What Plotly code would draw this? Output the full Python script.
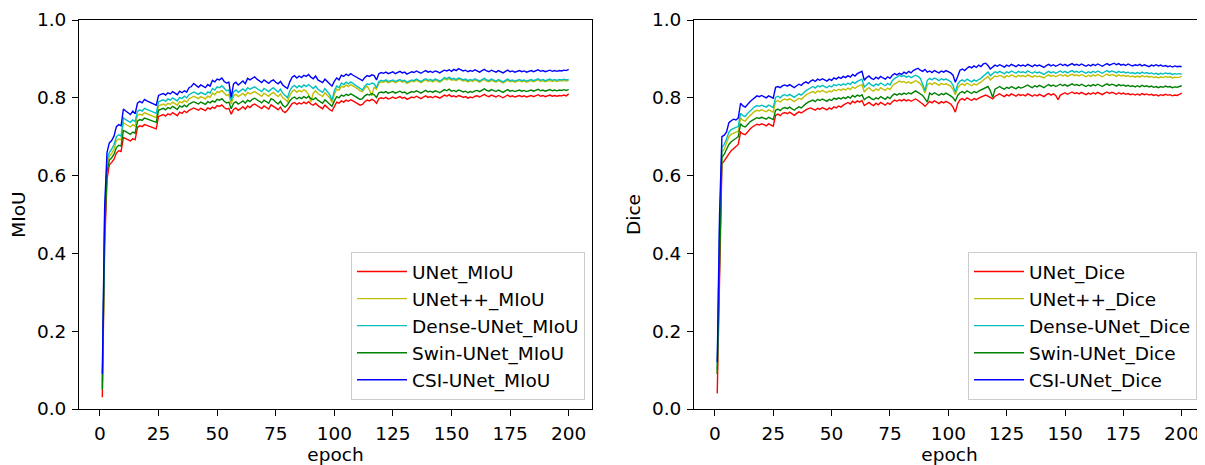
import plotly.graph_objects as go

# ---------------- data (values in thousandths) ----------------
MODELS = ["UNet", "UNet++", "Dense-UNet", "Swin-UNet", "CSI-UNet"]
COLORS = ["#ff0000", "#bfbf00", "#00bfbf", "#008000", "#0000ff"]
X_TICKS = [0, 25, 50, 75, 100, 125, 150, 175, 200]
Y_TICKS = [0.0, 0.2, 0.4, 0.6, 0.8, 1.0]

MIOU_UNET = [
    30, 420, 590, 628, 634, 642, 658, 664, 662, 698, 695, 691, 689, 695, 692, 724, 728, 726, 731, 729,
    727, 724, 722, 720, 752, 755, 757, 753, 759, 756, 762, 758, 754, 763, 760, 766, 762, 768, 771, 774,
    771, 768, 773, 770, 767, 774, 771, 776, 773, 780, 778, 782, 775, 771, 773, 758, 770, 774, 768, 772,
    777, 771, 779, 775, 781, 784, 780, 776, 772, 779, 775, 771, 782, 779, 774, 769, 776, 766, 762, 768,
    778, 785, 788, 783, 787, 784, 789, 785, 790, 784, 781, 786, 780, 776, 772, 781, 775, 770, 766, 778,
    789, 786, 792, 789, 794, 791, 795, 792, 788, 784, 781, 783, 790, 794, 792, 796, 793, 786, 798, 800,
    798, 801, 797, 799, 802, 798, 801, 803, 799, 801, 796, 799, 802, 800, 804, 801, 798, 802, 805, 801,
    803, 800, 804, 802, 799, 803, 807, 804, 808, 803, 805, 802, 806, 804, 801, 803, 799, 802, 800, 804,
    805, 802, 806, 809, 805, 803, 807, 804, 802, 806, 803, 800, 804, 807, 803, 805, 802, 804, 806, 803,
    805, 802, 804, 806, 803, 805, 808, 804, 806, 803, 805, 807, 804, 806, 804, 806, 805, 807, 805, 810,
]
MIOU_UNETPP = [
    60, 480, 630, 650, 657, 668, 690, 694, 692, 736, 732, 728, 725, 731, 727, 754, 758, 755, 762, 759,
    757, 754, 752, 749, 779, 782, 784, 780, 786, 783, 789, 785, 781, 790, 787, 793, 789, 797, 800, 804,
    801, 798, 803, 800, 797, 804, 801, 812, 808, 816, 814, 819, 811, 806, 808, 784, 804, 809, 803, 807,
    811, 805, 814, 810, 813, 816, 812, 808, 804, 812, 808, 804, 810, 814, 808, 803, 810, 800, 796, 790,
    806, 816, 820, 814, 819, 815, 821, 817, 808, 790, 812, 818, 811, 807, 803, 813, 806, 800, 788, 809,
    822, 819, 830, 827, 833, 829, 834, 831, 827, 823, 818, 816, 825, 830, 820, 805, 828, 822, 838, 841,
    840, 843, 839, 841, 843, 839, 842, 844, 840, 842, 837, 840, 843, 841, 845, 842, 839, 843, 846, 842,
    844, 841, 845, 843, 840, 844, 849, 846, 850, 845, 847, 844, 848, 846, 843, 845, 841, 844, 842, 846,
    843, 840, 844, 847, 843, 841, 845, 842, 840, 844, 841, 838, 842, 845, 841, 843, 840, 842, 844, 841,
    843, 840, 842, 844, 841, 843, 846, 842, 844, 841, 843, 845, 842, 844, 842, 844, 843, 845, 843, 845,
]
MIOU_DENSE = [
    70, 500, 640, 660, 668, 680, 700, 705, 702, 748, 744, 740, 737, 743, 739, 765, 769, 766, 773, 770,
    768, 765, 763, 760, 790, 793, 795, 791, 797, 794, 800, 796, 792, 801, 798, 804, 800, 808, 811, 815,
    812, 809, 814, 811, 808, 815, 812, 824, 820, 828, 826, 831, 823, 818, 820, 792, 815, 820, 814, 818,
    823, 817, 826, 822, 825, 828, 824, 820, 816, 824, 820, 816, 822, 826, 820, 815, 822, 812, 806, 800,
    818, 828, 832, 826, 831, 827, 833, 829, 834, 828, 824, 830, 822, 818, 814, 824, 816, 808, 794, 818,
    830, 826, 838, 834, 840, 836, 841, 837, 833, 829, 823, 820, 830, 836, 834, 838, 836, 826, 842, 845,
    843, 846, 842, 844, 846, 842, 845, 847, 843, 845, 840, 843, 846, 844, 848, 845, 842, 846, 849, 845,
    847, 844, 848, 846, 843, 847, 852, 849, 853, 848, 850, 847, 851, 849, 846, 848, 844, 847, 845, 849,
    846, 843, 847, 850, 846, 844, 848, 845, 843, 847, 844, 841, 845, 848, 844, 846, 843, 845, 847, 844,
    846, 843, 845, 847, 844, 846, 849, 845, 847, 844, 846, 848, 845, 847, 845, 847, 846, 848, 846, 847,
]
MIOU_SWIN = [
    50, 450, 610, 640, 646, 655, 672, 678, 676, 716, 713, 709, 706, 712, 709, 740, 744, 742, 748, 746,
    744, 741, 739, 737, 768, 771, 773, 769, 775, 772, 778, 774, 770, 779, 776, 781, 777, 784, 787, 790,
    787, 784, 789, 786, 783, 790, 787, 792, 789, 796, 794, 798, 791, 787, 789, 772, 786, 790, 784, 788,
    792, 786, 794, 790, 796, 799, 795, 791, 787, 794, 790, 786, 798, 795, 789, 784, 791, 781, 776, 782,
    792, 799, 802, 797, 801, 798, 803, 799, 804, 798, 795, 800, 794, 790, 786, 795, 789, 784, 778, 792,
    803, 800, 807, 804, 809, 806, 810, 807, 803, 799, 796, 798, 805, 809, 807, 811, 808, 801, 813, 815,
    813, 816, 812, 814, 816, 812, 815, 817, 813, 815, 810, 813, 816, 814, 818, 815, 812, 816, 819, 815,
    817, 814, 818, 816, 813, 817, 821, 818, 822, 817, 819, 816, 820, 818, 815, 817, 813, 816, 814, 818,
    819, 816, 820, 823, 819, 817, 821, 818, 816, 820, 817, 814, 818, 821, 817, 819, 816, 818, 820, 817,
    819, 816, 818, 820, 817, 819, 822, 818, 820, 817, 819, 821, 818, 820, 818, 820, 819, 821, 819, 821,
]
MIOU_CSI = [
    90, 520, 660, 684, 690, 702, 726, 731, 728, 771, 766, 761, 757, 766, 759, 786, 791, 787, 796, 792,
    790, 787, 784, 781, 806, 809, 811, 807, 813, 810, 816, 812, 808, 817, 813, 818, 815, 826, 829, 837,
    831, 827, 833, 829, 826, 834, 830, 845, 841, 848, 846, 851, 842, 838, 840, 801, 836, 840, 833, 838,
    843, 836, 850, 846, 849, 854, 848, 843, 839, 846, 841, 837, 843, 846, 840, 836, 842, 833, 828, 824,
    841, 853, 857, 851, 856, 852, 858, 855, 860, 853, 849, 856, 846, 843, 839, 848, 841, 835, 830, 842,
    851, 846, 858, 855, 861, 857, 862, 858, 854, 850, 846, 844, 852, 857, 855, 859, 857, 846, 862, 865,
    863, 866, 862, 864, 867, 862, 865, 868, 864, 866, 861, 864, 867, 865, 869, 866, 863, 867, 870, 866,
    868, 865, 869, 867, 864, 868, 871, 869, 872, 868, 873, 870, 875, 872, 869, 871, 867, 870, 868, 872,
    869, 866, 870, 873, 869, 867, 871, 868, 866, 870, 867, 864, 868, 871, 867, 869, 866, 868, 870, 867,
    869, 866, 868, 870, 867, 869, 872, 868, 870, 867, 869, 871, 868, 870, 868, 870, 869, 871, 870, 873,
]

DICE_UNET = [
    40, 380, 630, 638, 648, 656, 664, 670, 675, 680, 712, 707, 705, 713, 719, 725, 729, 732, 730, 733,
    731, 728, 733, 730, 727, 755, 758, 754, 760, 762, 759, 763, 758, 755, 760, 764, 761, 766, 769, 772,
    774, 771, 768, 773, 770, 775, 772, 769, 774, 771, 777, 774, 779, 776, 781, 785, 788, 784, 791, 787,
    792, 789, 793, 780, 785, 788, 783, 780, 786, 782, 788, 784, 781, 787, 783, 790, 794, 791, 795, 792,
    796, 792, 795, 791, 794, 797, 793, 789, 784, 778, 786, 791, 787, 792, 789, 785, 790, 787, 791, 788,
    784, 776, 763, 785, 795, 798, 794, 800, 797, 793, 798, 795, 799, 802, 805, 807, 804, 800, 797, 804,
    807, 810, 806, 803, 808, 805, 810, 807, 804, 809, 806, 808, 805, 810, 807, 804, 808, 805, 809, 806,
    803, 808, 811, 807, 810, 806, 795, 807, 810, 813, 809, 812, 815, 811, 813, 810, 814, 811, 808, 812,
    809, 813, 810, 814, 811, 808, 812, 815, 811, 814, 812, 809, 813, 810, 812, 809, 811, 808, 810, 807,
    810, 807, 811, 808, 810, 807, 809, 806, 808, 805, 808, 806, 809, 807, 808, 805, 807, 806, 809, 812,
]
DICE_UNETPP = [
    90, 450, 660, 668, 684, 700, 706, 710, 712, 714, 748, 742, 740, 748, 754, 760, 765, 768, 766, 769,
    767, 764, 769, 766, 763, 790, 793, 789, 795, 797, 794, 798, 793, 790, 795, 799, 796, 802, 807, 811,
    813, 816, 812, 818, 815, 819, 816, 813, 818, 815, 821, 818, 822, 819, 823, 820, 825, 821, 828, 824,
    829, 832, 834, 815, 822, 826, 820, 817, 823, 819, 826, 822, 819, 825, 821, 830, 836, 839, 843, 840,
    842, 838, 841, 837, 840, 844, 841, 836, 828, 812, 833, 838, 834, 839, 836, 832, 837, 834, 836, 833,
    830, 822, 808, 825, 833, 836, 832, 838, 835, 831, 836, 833, 837, 840, 846, 851, 855, 846, 851, 856,
    854, 858, 855, 852, 857, 854, 859, 856, 853, 858, 855, 857, 854, 859, 856, 853, 857, 854, 856, 853,
    851, 856, 859, 855, 858, 854, 857, 860, 856, 859, 855, 858, 861, 857, 859, 856, 860, 857, 854, 858,
    855, 859, 856, 860, 857, 854, 858, 861, 857, 860, 858, 855, 859, 856, 858, 855, 857, 854, 856, 853,
    856, 853, 857, 854, 856, 853, 855, 852, 854, 851, 854, 852, 855, 853, 854, 851, 853, 852, 853, 855,
]
DICE_DENSE = [
    100, 470, 673, 680, 695, 712, 718, 722, 724, 726, 760, 754, 752, 760, 766, 772, 777, 780, 778, 781,
    779, 776, 781, 778, 775, 801, 804, 800, 806, 808, 805, 809, 804, 801, 806, 810, 807, 813, 818, 822,
    826, 829, 825, 831, 828, 832, 829, 826, 831, 828, 834, 831, 835, 832, 836, 833, 838, 834, 841, 837,
    842, 845, 848, 828, 835, 839, 833, 830, 836, 832, 838, 834, 831, 837, 833, 844, 850, 853, 858, 855,
    857, 853, 856, 852, 855, 858, 855, 850, 835, 818, 845, 850, 846, 851, 848, 844, 849, 846, 848, 845,
    842, 832, 814, 835, 843, 846, 842, 848, 845, 841, 846, 843, 847, 850, 856, 861, 866, 857, 862, 867,
    864, 868, 865, 862, 867, 864, 869, 866, 863, 868, 865, 867, 864, 869, 866, 863, 867, 864, 866, 863,
    860, 865, 868, 864, 867, 863, 866, 869, 865, 868, 864, 867, 870, 866, 868, 865, 869, 866, 863, 867,
    864, 868, 865, 869, 866, 863, 867, 870, 866, 869, 867, 864, 868, 865, 867, 864, 866, 863, 865, 862,
    865, 862, 866, 863, 865, 862, 864, 861, 863, 860, 863, 861, 864, 862, 863, 860, 862, 861, 862, 861,
]
DICE_SWIN = [
    90, 420, 647, 655, 668, 680, 687, 692, 695, 700, 733, 727, 725, 733, 738, 742, 746, 749, 747, 750,
    748, 745, 750, 747, 744, 768, 771, 767, 773, 775, 772, 776, 771, 768, 773, 777, 774, 780, 785, 789,
    791, 794, 790, 796, 793, 797, 794, 791, 796, 793, 799, 796, 800, 797, 801, 798, 803, 799, 806, 802,
    807, 804, 808, 795, 800, 803, 798, 795, 800, 797, 803, 799, 796, 802, 798, 806, 810, 807, 811, 808,
    812, 809, 813, 810, 815, 818, 814, 810, 806, 798, 789, 812, 808, 813, 810, 806, 811, 808, 812, 809,
    805, 800, 792, 806, 813, 816, 812, 818, 815, 811, 816, 813, 817, 820, 823, 826, 829, 818, 801, 822,
    826, 829, 825, 822, 827, 824, 829, 826, 823, 828, 825, 827, 830, 833, 829, 826, 831, 828, 832, 829,
    826, 831, 834, 830, 833, 829, 832, 835, 831, 834, 830, 833, 836, 832, 834, 831, 835, 832, 829, 833,
    830, 834, 831, 835, 832, 829, 833, 836, 832, 835, 833, 830, 834, 831, 833, 830, 832, 829, 831, 828,
    831, 828, 832, 829, 831, 828, 830, 827, 829, 826, 829, 827, 830, 828, 829, 826, 828, 827, 829, 831,
]
DICE_CSI = [
    120, 500, 700, 704, 712, 736, 741, 745, 743, 748, 786, 779, 776, 784, 790, 795, 801, 805, 803, 806,
    803, 800, 805, 802, 799, 827, 829, 826, 831, 833, 830, 834, 829, 826, 831, 835, 832, 838, 841, 837,
    843, 846, 842, 848, 845, 849, 846, 843, 848, 845, 851, 848, 853, 850, 855, 852, 857, 853, 860, 856,
    862, 865, 868, 845, 852, 856, 850, 847, 853, 849, 855, 851, 848, 854, 850, 858, 862, 859, 863, 860,
    866, 862, 868, 864, 870, 873, 876, 871, 868, 873, 866, 869, 865, 870, 867, 864, 869, 866, 870, 867,
    864, 858, 840, 855, 871, 874, 870, 876, 880, 877, 882, 878, 884, 880, 887, 889, 883, 874, 879, 884,
    881, 885, 882, 879, 884, 881, 886, 883, 880, 885, 882, 884, 881, 886, 883, 880, 885, 882, 884, 881,
    878, 883, 886, 882, 885, 881, 884, 887, 883, 886, 882, 885, 888, 884, 886, 883, 887, 884, 881, 885,
    882, 886, 883, 887, 884, 881, 885, 888, 884, 887, 889, 885, 888, 884, 886, 883, 887, 884, 882, 885,
    883, 886, 882, 885, 883, 880, 884, 882, 885, 882, 884, 881, 883, 880, 882, 879, 882, 880, 881, 880,
]

MIOU_SERIES = [MIOU_UNET, MIOU_UNETPP, MIOU_DENSE, MIOU_SWIN, MIOU_CSI]
DICE_SERIES = [DICE_UNET, DICE_UNETPP, DICE_DENSE, DICE_SWIN, DICE_CSI]

# ---------------- figure ----------------
# The page body has an 8px margin, so the figure is drawn 8px smaller and
# all positions are expressed in figure coordinates (page - 8).
FONT = "DejaVu Sans"
FS = 18.5
W, H = 1197, 457
ML, MR, MT, MB = 71, 0, 12, 56
PW = W - ML - MR
PH = H - MT - MB
left_dom = [0, (584 - ML) / PW]
right_dom = [(686 - ML) / PW, 1.0]

fig = go.Figure()


def add_panel(series_list, suffix, xa, ya, legend_name):
    for i, (name, color, vals) in enumerate(zip(MODELS, COLORS, series_list)):
        fig.add_trace(go.Scatter(
            x=list(range(1, len(vals) + 1)),
            y=[v / 1000 for v in vals],
            mode="lines",
            line=dict(color=color, width=1.4),
            name=f"{name}_{suffix}",
            xaxis=xa, yaxis=ya,
            legend=legend_name,
            legendgroup=f"{legend_name}_{i}",
        ))


add_panel(MIOU_SERIES, "MIoU", "x", "y", "legend")
add_panel(DICE_SERIES, "Dice", "x2", "y2", "legend2")

axis_common = dict(
    showline=True, linecolor="black", linewidth=1, mirror=True,
    ticks="outside", ticklen=6, tickwidth=1, tickcolor="black",
    showgrid=False, zeroline=False, ticklabelstandoff=2, automargin=False,
    tickfont=dict(family=FONT, size=FS, color="black"),
)
xcommon = dict(axis_common, range=[-8.95, 209.95], tickmode="array", tickvals=X_TICKS,
               ticktext=[str(t) for t in X_TICKS],
               title=dict(text="epoch", font=dict(family=FONT, size=FS, color="black"), standoff=13))
ycommon = dict(axis_common, range=[0, 1], tickmode="array", tickvals=Y_TICKS,
               ticktext=[f"{t:.1f}" for t in Y_TICKS])

legend_common = dict(
    font=dict(family=FONT, size=FS, color="black"),
    bgcolor="rgba(255,255,255,0.8)", bordercolor="#cccccc", borderwidth=1,
    xanchor="right", yanchor="bottom", y=(401 - 392) / PH,
    itemwidth=50, tracegroupgap=5, traceorder="normal",
)

fig.update_layout(
    width=W, height=H,
    margin=dict(l=ML, r=MR, t=MT, b=MB, pad=0, autoexpand=False),
    paper_bgcolor="white", plot_bgcolor="white",
    font=dict(family=FONT, size=FS, color="black"),
    xaxis=dict(xcommon, domain=left_dom, anchor="y"),
    yaxis=dict(ycommon, domain=[0, 1], anchor="x",
               title=dict(text="MIoU", font=dict(family=FONT, size=FS, color="black"), standoff=9)),
    xaxis2=dict(xcommon, domain=right_dom, anchor="y2"),
    yaxis2=dict(ycommon, domain=[0, 1], anchor="x2",
                title=dict(text="Dice", font=dict(family=FONT, size=FS, color="black"), standoff=6)),
    legend=dict(legend_common, x=(577 - ML) / PW),
    legend2=dict(legend_common, x=(1189 - ML) / PW),
    showlegend=True,
)

fig.write_html("out.html")
